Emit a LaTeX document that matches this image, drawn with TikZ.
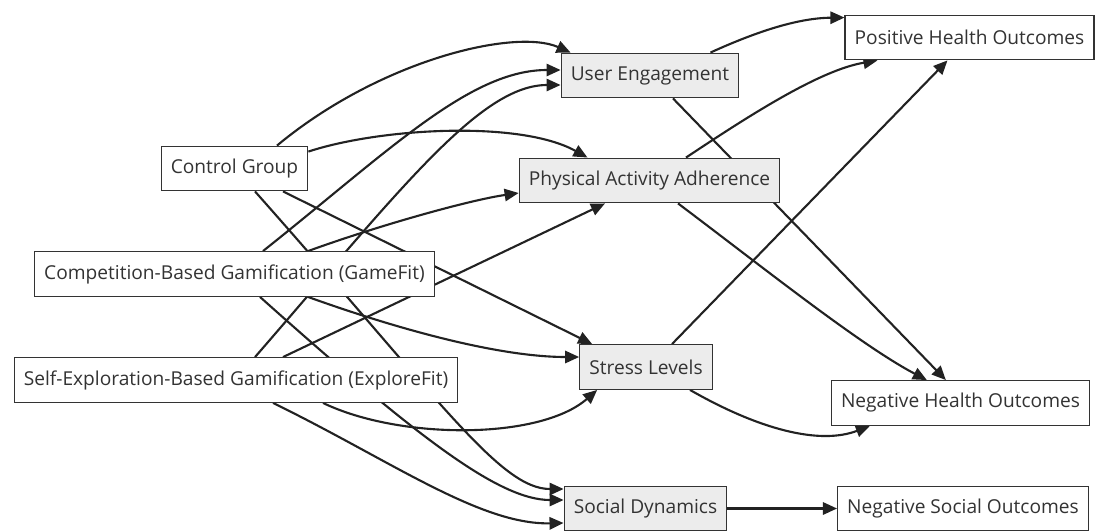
\documentclass[tikz,border=0pt]{standalone}
\usepackage{fontspec}
\setmainfont{Open Sans}
\usetikzlibrary{calc,arrows.meta,backgrounds}
\definecolor{boxLine}{RGB}{51,51,51}
\definecolor{boxFill}{RGB}{236,236,236}
\definecolor{edgeInk}{RGB}{34,34,34}
\definecolor{labelInk}{RGB}{51,51,51}
\tikzset{
  groupbox/.style={draw=boxLine,fill=white,line width=0.6pt,minimum height=25.5pt,inner xsep=5.5pt,font=\fontsize{10.9}{13}\selectfont,text=labelInk},
  factorbox/.style={groupbox,fill=boxFill},
  outcomebox/.style={groupbox},
  link/.style={draw=edgeInk,line width=1.2pt,-{Triangle[length=8pt,width=7pt]}}
}
\begin{document}
\begin{tikzpicture}[x=0.02cm,y=-0.02cm]
\useasboundingbox (0,0) rectangle (1095,531);
% groups
\node[groupbox] (cg) at (234.5,168.5) {Control Group};
\node[groupbox] (game) at (234.5,274) {Competition-Based Gamification (GameFit)};
\node[groupbox] (explore) at (236,380) {Self-Exploration-Based Gamification (ExploreFit)};
% factors
\node[factorbox] (ue) at (650,75.5) {User Engagement};
\node[factorbox] (paa) at (649.5,180.5) {Physical Activity Adherence};
\node[factorbox] (stress) at (646,367) {Stress Levels};
\node[factorbox] (social) at (645.5,508.5) {Social Dynamics};
% outcomes
\node[outcomebox] (pho) at (969.5,37.5) {Positive Health Outcomes};
\node[outcomebox] (nho) at (960.5,403) {Negative Health Outcomes};
\node[outcomebox] (nso) at (963,508.5) {Negative Social Outcomes};
\begin{pgfonlayer}{background}
\draw[link] ($(cg.north)+(42.5,0)$) .. controls (380,60) and (515,28) .. ($(ue.north west)+(10,0)$);
\draw[link] ($(cg.north east)+(0,6)$) .. controls (380,128) and (520,120) .. ($(paa.north)+(-62,0)$);
\draw[link] ($(cg.south)+(48.5,0)$) -- ($(stress.north west)+(13,0)$);
\draw[link] ($(cg.south)+(20.5,0)$) .. controls (440,400) and (500,489) .. ($(social.west)+(0,-19.5)$);
\draw[link] ($(game.north)+(28.5,0)$) .. controls (390,150) and (470,70) .. ($(ue.west)+(0,-5.5)$);
\draw[link] ($(game.north)+(73.5,0)$) .. controls (380,225) and (470,200) .. ($(paa.west)+(0,12.5)$);
\draw[link] ($(game.south)+(73.5,0)$) .. controls (400,330) and (500,357) .. ($(stress.west)+(0,-10)$);
\draw[link] ($(game.south)+(25.5,0)$) .. controls (420,440) and (500,500) .. ($(social.west)+(0,-8.5)$);
\draw[link] ($(explore.north)+(19,0)$) .. controls (400,190) and (480,85) .. ($(ue.west)+(0,9.5)$);
\draw[link] ($(explore.north)+(47,0)$) -- ($(paa.south)+(-44.5,0)$);
\draw[link] ($(explore.south)+(87,0)$) .. controls (400,440) and (540,440) .. ($(stress.south west)+(18,0)$);
\draw[link] ($(explore.south)+(37,0)$) .. controls (390,460) and (480,525) .. ($(social.west)+(0,14.5)$);
\draw[link] ($(ue.north east)+(-29,0)$) .. controls (760,30) and (800,18) .. ($(pho.north west)+(0,3)$);
\draw[link] ($(ue.south)+(23,0)$) -- ($(nho.north west)+(115,0)$);
\draw[link] ($(paa.north)+(36.5,0)$) .. controls (750,115) and (820,70) .. ($(pho.south west)+(33,0)$);
\draw[link] ($(paa.south)+(28.5,0)$) .. controls (760,265) and (860,345) .. ($(nho.north west)+(96,0)$);
\draw[link] ($(stress.north)+(26,0)$) -- ($(pho.south west)+(103,0)$);
\draw[link] ($(stress.south)+(44,0)$) .. controls (760,430) and (820,445) .. ($(nho.south west)+(39,0)$);
\draw[link] (social) -- (nso);
\end{pgfonlayer}
\end{tikzpicture}
\end{document}
